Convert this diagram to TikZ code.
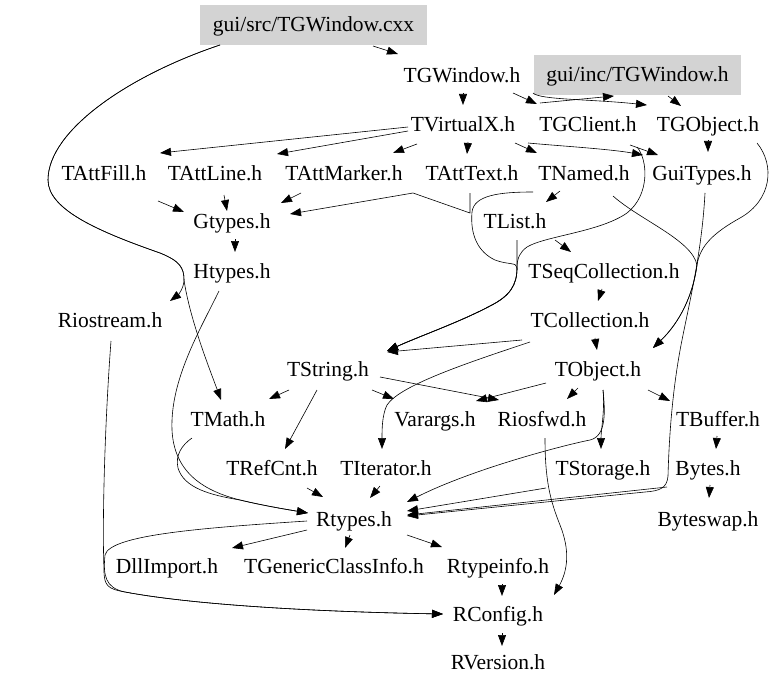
\documentclass[tikz,border=0pt]{standalone}
\usepackage{fontspec}
\setmainfont{Liberation Serif}
\usepackage{tikz}
\usetikzlibrary{arrows.meta,calc}
\definecolor{boxgray}{RGB}{211,211,211}

\begin{document}
\begin{tikzpicture}[x=1pt, y=-1pt,
  hdr/.style = {font=\fontsize{21.5}{24}\selectfont, inner xsep=2pt, inner ysep=3pt, text height=15pt, text depth=2pt},
  srcbox/.style = {hdr, fill=boxgray, minimum height=40pt},
  inc/.style = {line width=0.6pt, -{Triangle[length=11pt, width=8pt]}}]
\useasboundingbox (0,0) rectangle (779,690);

\node[srcbox, minimum width=227pt] (cxx) at (313.5,25) {gui/src/TGWindow.cxx};
\node[srcbox, minimum width=207pt] (guiinc) at (637.5,75.5) {gui/inc/TGWindow.h};
\node[hdr] (TGWindow) at (462,76) {TGWindow.h};
\node[hdr] (TVirtualX) at (463,125) {TVirtualX.h};
\node[hdr] (TGClient) at (588,125) {TGClient.h};
\node[hdr] (TGObject) at (708,125) {TGObject.h};
\node[hdr] (TAttFill) at (104,174) {TAttFill.h};
\node[hdr] (TAttLine) at (215,174) {TAttLine.h};
\node[hdr] (TAttMarker) at (344,174) {TAttMarker.h};
\node[hdr] (TAttText) at (472,174) {TAttText.h};
\node[hdr] (TNamed) at (584,174) {TNamed.h};
\node[hdr] (GuiTypes) at (702,174) {GuiTypes.h};
\node[hdr] (Gtypes) at (232,222) {Gtypes.h};
\node[hdr] (TList) at (515,222) {TList.h};
\node[hdr] (Htypes) at (232,272) {Htypes.h};
\node[hdr] (TSeqCollection) at (604,272) {TSeqCollection.h};
\node[hdr] (Riostream) at (110,321) {Riostream.h};
\node[hdr] (TCollection) at (590,321) {TCollection.h};
\node[hdr] (TString) at (328,370) {TString.h};
\node[hdr] (TObject) at (598,370) {TObject.h};
\node[hdr] (TMath) at (228,420) {TMath.h};
\node[hdr] (Varargs) at (435,420) {Varargs.h};
\node[hdr] (Riosfwd) at (542,420) {Riosfwd.h};
\node[hdr] (TBuffer) at (718,420) {TBuffer.h};
\node[hdr] (TRefCnt) at (272,469) {TRefCnt.h};
\node[hdr] (TIterator) at (386,469) {TIterator.h};
\node[hdr] (TStorage) at (603,469) {TStorage.h};
\node[hdr] (Bytes) at (708,469) {Bytes.h};
\node[hdr] (Rtypes) at (354,520) {Rtypes.h};
\node[hdr] (Byteswap) at (708,520) {Byteswap.h};
\node[hdr] (DllImport) at (167,567) {DllImport.h};
\node[hdr] (TGenericClassInfo) at (334,567) {TGenericClassInfo.h};
\node[hdr] (Rtypeinfo) at (498,567) {Rtypeinfo.h};
\node[hdr] (RConfig) at (498,615) {RConfig.h};
\node[hdr] (RVersion) at (498,663) {RVersion.h};

\draw[inc] ($(cxx)+(59.5,21)$) -- ($(TGWindow)+(-64,-22)$);
\draw[inc] ($(cxx)+(-93.5,20)$) .. controls (130,75) and (48,130) .. (48,180) .. controls (48,210) and (100,232) .. (160,253) .. controls (180,261) and (184,268) .. (184,280) .. controls (190,320) and (210,370) .. ($(TMath)+(-7,-20)$);
\draw[inc] ($(cxx)+(-93.5,20)$) .. controls (130,75) and (48,130) .. (48,180) .. controls (48,210) and (100,232) .. (160,253) .. controls (180,261) and (184,268) .. (184,280) .. controls (184,288) and (178,295) .. ($(Riostream)+(60,-20)$);

\draw[inc] ($(TGWindow)+(1,17)$) -- ($(TVirtualX)+(0,-20)$);
\draw[inc] ($(TGWindow)+(51,17)$) -- ($(TGClient)+(-51,-21)$);
\draw[inc] ($(TGWindow)+(71,17)$) .. controls (540,100) and (590,99) .. ($(TGObject)+(-61,-20)$);
\draw[inc] ($(TGClient)+(-48,-22)$) -- ($(guiinc)+(-23.5,20.5)$);
\draw[inc] ($(guiinc)+(30.5,20.5)$) -- ($(TGObject)+(-27,-19)$);

\draw[inc] ($(TVirtualX)+(-55,2)$) -- ($(TAttFill)+(56,-21)$);
\draw[inc] ($(TVirtualX)+(-55,6)$) -- ($(TAttLine)+(62,-20)$);
\draw[inc] ($(TVirtualX)+(-46,19)$) -- ($(TAttMarker)+(49,-21)$);
\draw[inc] ($(TVirtualX)+(5,17)$) -- ($(TAttText)+(-5,-20)$);
\draw[inc] ($(TVirtualX)+(52,18)$) -- ($(TNamed)+(-47,-21)$);
\draw[inc] ($(TVirtualX)+(65,18)$) .. controls (560,146) and (610,149) .. ($(GuiTypes)+(-59,-19)$);

\draw[inc] ($(TGClient)+(42,20)$) -- ($(GuiTypes)+(-44,-19)$);
\draw[inc] ($(TGClient)+(49,22)$) .. controls (648,160) and (650,195) .. (627,213) .. controls (600,232) and (545,236) .. (527,247) .. controls (520,252) and (517,258) .. (517,268) .. controls (517,285) and (510,296) .. (490,306) .. controls (460,322) and (420,336) .. ($(TString)+(59,-19)$);
\draw[inc] ($(TGObject)+(0,15)$) -- ($(GuiTypes)+(6,-22)$);
\draw[inc] ($(TGObject)+(49,18)$) .. controls (775,165) and (772,200) .. (740,218) .. controls (715,232) and (700,245) .. (697,265) .. controls (693,295) and (680,322) .. ($(TObject)+(55,-22)$);

\draw[inc] ($(TAttFill)+(54,27)$) -- ($(Gtypes)+(-48,-10)$);
\draw[inc] ($(TAttLine)+(9,21)$) -- ($(Gtypes)+(-5,-11)$);
\draw[inc] ($(TAttMarker)+(-43,19)$) -- ($(Gtypes)+(49,-19)$);
\draw[inc] ($(TAttText)+(-2,19)$) -- (470,213) -- (413,193) -- ($(Gtypes)+(58,-8)$);

\draw[inc] ($(TNamed)+(-24,17)$) -- ($(TList)+(31,-20)$);
\draw[inc] ($(TNamed)+(-51,18)$) .. controls (500,192) and (474,195) .. (472,212) .. controls (470,235) and (478,252) .. (495,260) .. controls (508,265) and (517,262) .. (517,268) .. controls (517,285) and (510,296) .. (490,306) .. controls (460,322) and (420,336) .. ($(TString)+(59,-19)$);
\draw[inc] ($(TNamed)+(29,22)$) .. controls (640,220) and (692,240) .. (697,265) .. controls (693,295) and (680,322) .. ($(TObject)+(55,-22)$);
\draw[inc] ($(GuiTypes)+(3,19)$) .. controls (702,250) and (690,300) .. (682,340) .. controls (672,390) and (669,440) .. (668,476) .. controls (667,488) and (660,491) .. (645,492) -- ($(Rtypes)+(53,-4)$);

\draw[inc] ($(Gtypes)+(3,17)$) -- ($(Htypes)+(3,-20)$);
\draw[inc] ($(Htypes)+(-13,19)$) .. controls (200,330) and (170,380) .. (172,430) .. controls (174,470) and (200,490) .. (240,500) .. controls (265,506) and (290,510) .. ($(Rtypes)+(-46,-7)$);

\draw[inc] ($(TList)+(40,18)$) -- ($(TSeqCollection)+(-33,-20)$);
\draw[inc] ($(TList)+(2,18)$) -- (517,268) .. controls (517,285) and (510,296) .. (490,306) .. controls (460,322) and (420,336) .. ($(TString)+(59,-19)$);
\draw[inc] ($(TSeqCollection)+(-2,17)$) -- ($(TCollection)+(8,-20)$);

\draw[inc] ($(TCollection)+(5,17)$) -- ($(TObject)+(-1,-20)$);
\draw[inc] ($(TCollection)+(-68,19)$) -- ($(TString)+(59,-18)$);
\draw[inc] ($(TCollection)+(-60,21)$) .. controls (470,362) and (400,385) .. (387,405) .. controls (382,415) and (382,430) .. ($(TIterator)+(-4,-20)$);

\draw[inc] ($(TString)+(-39,20)$) -- ($(TMath)+(41,-21)$);
\draw[inc] ($(TString)+(-11,20)$) -- ($(TRefCnt)+(13,-20)$);
\draw[inc] ($(TString)+(44,20)$) -- ($(Varargs)+(-41,-21)$);
\draw[inc] ($(TString)+(52,7)$) -- ($(Riosfwd)+(-43,-20)$);

\draw[inc] ($(TObject)+(-52,13)$) -- ($(Varargs)+(41,-19)$);
\draw[inc] ($(TObject)+(-20,18)$) -- ($(Riosfwd)+(25,-21)$);
\draw[inc] ($(TObject)+(5,20)$) .. controls (605,410) and (601,430) .. ($(TStorage)+(-2,-20)$);
\draw[inc] ($(TObject)+(5,20)$) .. controls (605,410) and (607,436) .. (590,440) .. controls (560,446) and (470,470) .. ($(Rtypes)+(53,-18)$);
\draw[inc] ($(TObject)+(50,20)$) -- ($(TBuffer)+(-48,-19)$);

\draw[inc] ($(TMath)+(-36,18)$) .. controls (182,445) and (175,455) .. (178,468) .. controls (184,488) and (210,495) .. (240,500) .. controls (265,506) and (290,510) .. ($(Rtypes)+(-46,-7)$);
\draw[inc] ($(Riosfwd)+(3,18)$) .. controls (545,480) and (550,500) .. (560,525) .. controls (570,550) and (568,570) .. ($(RConfig)+(56,-20)$);
\draw[inc] ($(TBuffer)+(-1,16)$) -- ($(Bytes)+(8,-20)$);

\draw[inc] ($(TRefCnt)+(35,19)$) -- ($(Rtypes)+(-31,-23)$);
\draw[inc] ($(TIterator)+(-6,17)$) -- ($(Rtypes)+(16,-22)$);
\draw[inc] ($(TStorage)+(-57,19)$) -- ($(Rtypes)+(53,-9)$);
\draw[inc] ($(Bytes)+(-41,18)$) -- ($(Rtypes)+(53,-5)$);
\draw[inc] ($(Bytes)+(2,16)$) -- ($(Byteswap)+(1,-22)$);

\draw[inc] ($(Rtypes)+(-47,10)$) -- ($(DllImport)+(65,-19)$);
\draw[inc] ($(Rtypes)+(-4,15)$) -- ($(TGenericClassInfo)+(11,-19)$);
\draw[inc] ($(Rtypes)+(53,15)$) -- ($(Rtypeinfo)+(-56,-20)$);
\draw[inc] ($(Rtypes)+(-47,1)$) .. controls (200,528) and (110,535) .. (105,555) .. controls (103,575) and (105,588) .. (125,592) .. controls (200,606) and (330,612) .. ($(RConfig)+(-55,-1)$);
\draw[inc] ($(Riostream)+(1,20)$) .. controls (105,420) and (102,520) .. (104,570) .. controls (104,586) and (108,589) .. (125,592) .. controls (200,606) and (330,612) .. ($(RConfig)+(-55,-1)$);

\draw[inc] ($(Rtypeinfo)+(4,17)$) -- ($(RConfig)+(4,-19)$);
\draw[inc] ($(RConfig)+(4,18)$) -- ($(RVersion)+(4,-17)$);
\end{tikzpicture}
\end{document}
